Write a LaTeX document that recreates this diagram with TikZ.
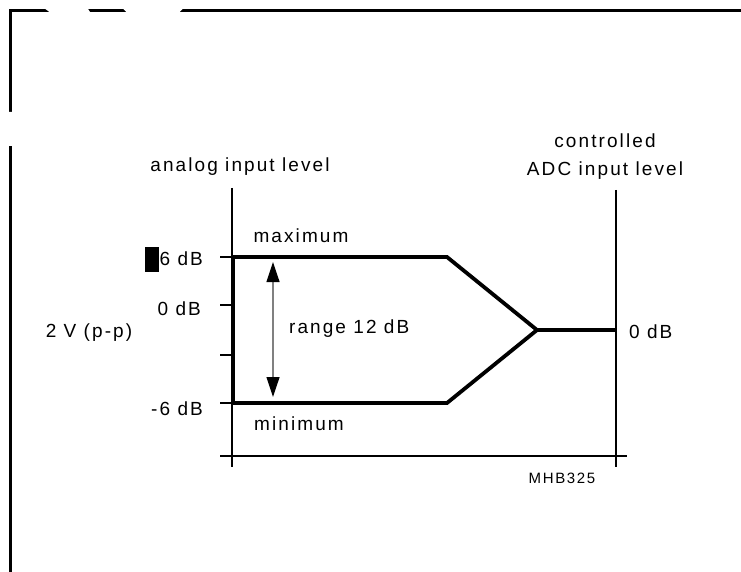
\documentclass[tikz,border=0pt]{standalone}
\usepackage{fontspec}
\newfontfamily\lblfont{Liberation Sans}[LetterSpace=11]
\usetikzlibrary{arrows.meta}
\definecolor{shaftgray}{RGB}{128,128,128}

\begin{document}
\begin{tikzpicture}[x=1pt, y=-1pt, line width=2.2pt,
  lbl/.style={font=\lblfont\fontsize{19}{28}\selectfont, inner sep=0pt},
  sig/.style={line width=3.8pt, line join=miter},
  rangearrow/.style={line width=1.2pt, shaftgray,
    >={Triangle[length=20pt, width=13pt, color=black]}, <->}]
  \useasboundingbox (0,0) rectangle (741,572);
  \draw[line width=2.7pt] (10.7,580) -- (10.7,10.7) -- (750,10.7);
  % watermark remains cut the frame
  \begin{scope}
    \clip (0,0) rectangle (741,572);
    \fill[white, even odd rule] (15,58) circle (88) (10,55) ellipse [x radius=60, y radius=57];
    \fill[white] (113,-1) -- (153,38) -- (193,-1) -- cycle;
  \end{scope}
  % axes
  \draw (232,188) -- (232,467);
  \draw (616,190) -- (616,467);
  \draw (220,456) -- (627,456);
  \foreach \y in {257, 305, 355, 403} { \draw (220,\y) -- (232,\y); }
  % level path
  \draw[sig] (537,330) -- (447,257) -- (233,257) -- (233,403) -- (447,403) -- cycle;
  \draw[sig] (537,330) -- (616,330);
  \draw[rangearrow] (273,262) -- (273,397);
  % labels
  \node[lbl, anchor=base] (analog) at (240,172) {analog input level};
  \node[lbl, align=center] (adc) at (605,157) {controlled\\ADC input level};
  \node[lbl, anchor=base] (max) at (301,242) {maximum};
  \node[lbl, anchor=base] (min) at (299,430) {minimum};
  \node[lbl, anchor=base east] (pos) at (204,265) {\rule[-7pt]{14pt}{25pt}\kern0.5pt 6 dB};
  \node[lbl, anchor=base east] (zero) at (202,315) {0 dB};
  \node[lbl, anchor=base east] (neg) at (204,415) {-6 dB};
  \node[lbl, anchor=base] (vpp) at (89,337) {2 V (p-p)};
  \node[lbl, anchor=base west] (range) at (288,333) {range 12 dB};
  \node[lbl, anchor=base west] (out) at (628,338) {0 dB};
  \node[lbl, anchor=base, font=\lblfont\fontsize{15}{18}\selectfont] (code) at (562,483) {MHB325};
\end{tikzpicture}
\end{document}
